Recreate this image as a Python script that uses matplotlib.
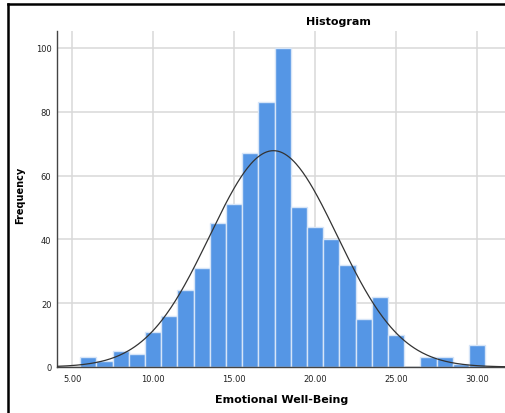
import numpy as np
import matplotlib
matplotlib.use("Agg")
import matplotlib.pyplot as plt
from matplotlib.lines import Line2D

# Emotional Well-Being scores, binned in steps of 1 (bin centres)
scores = [6, 7, 8, 9, 10, 11, 12, 13, 14, 15, 16, 17, 18,
          19, 20, 21, 22, 23, 24, 25, 26, 27, 28, 29, 30]
counts = [3, 2, 5, 4, 11, 16, 24, 31, 45, 51, 67, 83, 100,
          50, 44, 40, 32, 15, 22, 10, 0, 3, 3, 1, 7]

xticks = [5, 10, 15, 20, 25, 30]
yticks = [0, 20, 40, 60, 80, 100]

BIN_W = 1.0
BAR_COLOR = "#5596e5"

# normal curve fitted from the binned data
x_arr = np.array(scores, dtype=float)
c_arr = np.array(counts, dtype=float)
n_total = c_arr.sum()
mean = (x_arr * c_arr).sum() / n_total
sd = np.sqrt((c_arr * (x_arr - mean) ** 2).sum() / n_total)

W, H = 505, 414
fig = plt.figure(figsize=(W / 100, H / 100), dpi=100)
ax = fig.add_axes([57 / W, (H - 368) / H, 450 / W, 336 / H])

ax.bar(scores, counts, width=BIN_W, color=BAR_COLOR,
       edgecolor="#d6e5f8", linewidth=1.0, zorder=2)

xlim = (4.07, 31.85)
xs = np.linspace(xlim[0], xlim[1], 400)
ys = n_total * BIN_W / (sd * np.sqrt(2 * np.pi)) * np.exp(-0.5 * ((xs - mean) / sd) ** 2)
ax.plot(xs, ys, color="#333333", linewidth=0.9, zorder=3)

ax.set_xlim(*xlim)
ax.set_ylim(0, 105.3)
ax.set_xticks(xticks)
ax.set_xticklabels([f"{v:.2f}" for v in xticks])
ax.set_yticks(yticks)
ax.set_yticklabels([str(v) for v in yticks])
ax.tick_params(length=0, labelsize=6, colors="#222222")
ax.tick_params(axis="x", pad=5)
ax.tick_params(axis="y", pad=4)

ax.grid(True, color="#d8d8d8", linewidth=1.1, zorder=0)
ax.set_axisbelow(True)

for side in ("top", "right"):
    ax.spines[side].set_visible(False)
for side in ("left", "bottom"):
    ax.spines[side].set_color("#444444")
    ax.spines[side].set_linewidth(1.0)

ax.set_xlabel("Emotional Well-Being", fontsize=8, fontweight="bold", labelpad=8)
fig.text(20 / W, 1 - 195 / H, "Frequency", rotation=90, fontsize=7,
         fontweight="bold", ha="center", va="center")
fig.text(338 / W, 1 - 22 / H, "Histogram", fontsize=8, fontweight="bold",
         ha="center", va="center")

# outer frame (top and left edges)
fig.add_artist(Line2D([7.5 / W, 1.01], [1 - 4.5 / H, 1 - 4.5 / H],
                      transform=fig.transFigure, color="black", linewidth=1.8))
fig.add_artist(Line2D([7.5 / W, 7.5 / W], [-0.01, 1 - 4.5 / H],
                      transform=fig.transFigure, color="black", linewidth=1.8))

fig.savefig("out.png", dpi=100)
